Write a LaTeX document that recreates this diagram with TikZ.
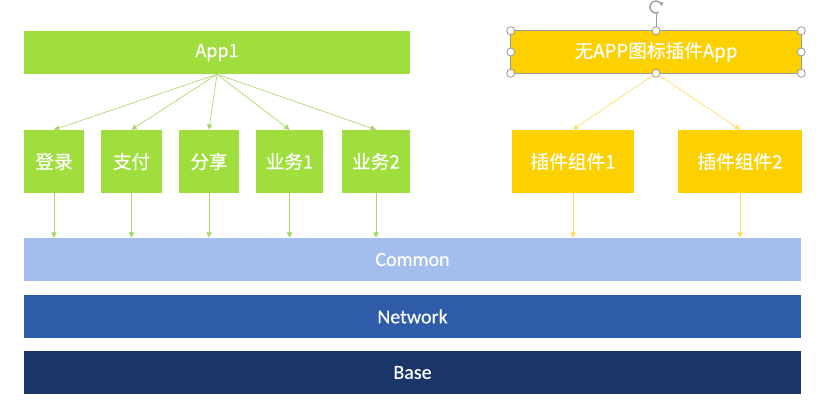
\documentclass[tikz,border=0pt]{standalone}
\usepackage{fontspec}
\newfontfamily\cjk{Noto Sans CJK SC}[FakeBold=0.4]
\newfontfamily\layerfont{Carlito}[FakeBold=0.3]
\usetikzlibrary{arrows.meta}
\usepackage{xcolor}

\definecolor{appgreen}{HTML}{9FDE3C}
\definecolor{arrowgreen}{HTML}{A8D86A}
\definecolor{plugyellow}{HTML}{FDD100}
\definecolor{arrowyellow}{HTML}{FFDF5A}
\definecolor{commonblue}{HTML}{A3BDEC}
\definecolor{networkblue}{HTML}{2F5CA8}
\definecolor{baseblue}{HTML}{1A3669}
\definecolor{handlegray}{HTML}{9A9A9A}

\tikzset{
  box/.style={inner sep=0pt, text=white, font=\cjk\fontsize{14}{16}\selectfont},
  greenbox/.style={box, fill=appgreen, minimum height=47.25pt},
  yellowbox/.style={box, fill=plugyellow, minimum height=47.25pt},
  layer/.style={inner sep=0pt, text=white, minimum width=582.75pt, minimum height=32.25pt, font=\layerfont\fontsize{15}{17}\selectfont},
  garrow/.style={draw=arrowgreen, line width=0.5pt, -{Triangle[length=4pt,width=4pt]}},
  yarrow/.style={draw=arrowyellow, line width=0.5pt, -{Triangle[length=4pt,width=4pt]}},
  handle/.style={circle, draw=handlegray, fill=white, line width=0.6pt, inner sep=0pt, minimum size=6pt}
}

\begin{document}
\begin{tikzpicture}[x=0.75pt, y=-0.75pt]
        \useasboundingbox (0,0) rectangle (827,418);

        % App1 and its modules
        \node[box, fill=appgreen, minimum width=289.5pt, minimum height=32.25pt, font=\cjk\fontsize{13.5}{15}\selectfont] (app1) at (217,52.5) {App1};
        \node[greenbox, minimum width=45pt] (login) at (54,161.5) {登录};
        \node[greenbox, minimum width=45.75pt] (pay) at (131.5,161.5) {支付};
        \node[greenbox, minimum width=45pt] (share) at (209,161.5) {分享};
        \node[greenbox, minimum width=50.25pt] (biz1) at (289.5,161.5) {业务1};
        \node[greenbox, minimum width=51pt] (biz2) at (376,161.5) {业务2};

        % plugin app and its components
        \node[box, fill=plugyellow, minimum width=217.5pt, minimum height=31.5pt] (plugapp) at (656,52) {无APP图标插件App};
        \node[yellowbox, minimum width=91.5pt] (plug1) at (573,161.5) {插件组件1};
        \node[yellowbox, minimum width=93pt] (plug2) at (740,161.5) {插件组件2};

        % layers
        \node[layer, fill=commonblue] (common) at (412.5,259.5) {Common};
        \node[layer, fill=networkblue] (network) at (412.5,316.5) {Network};
        \node[layer, fill=baseblue] (base) at (412.5,372.5) {Base};

        % arrows from the apps
        \foreach \m in {login,pay,share,biz1,biz2}
          \draw[garrow] (app1.south) -- (\m.north);
        \foreach \m in {plug1,plug2}
          \draw[yarrow] (plugapp.south) -- (\m.north);

        % arrows down to Common
        \foreach \m in {login,pay,share,biz1,biz2}
          \draw[garrow] (\m.south) -- (\m.south |- common.north);
        \foreach \m in {plug1,plug2}
          \draw[yarrow] (\m.south) -- (\m.south |- common.north);

        % selection handles
        \draw[handlegray, line width=0.6pt] (plugapp.north west) rectangle (plugapp.south east);
        \coordinate (rot) at (656,7);
        \draw[handlegray, line width=0.6pt] (plugapp.north) -- (656,13);
        \draw[handlegray, line width=1pt, -{Triangle[length=2.5pt,width=3pt]}] (rot) ++(60:6) arc[start angle=60, end angle=350, radius=6];
        \foreach \a in {north west,north,north east,west,east,south west,south,south east}
          \node[handle] at (plugapp.\a) {};
    \end{tikzpicture}
\end{document}
